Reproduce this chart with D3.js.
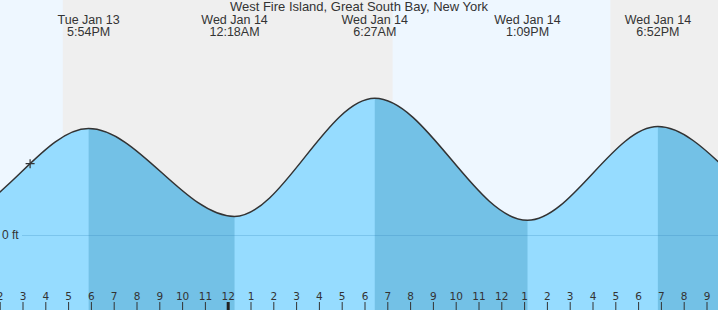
<!DOCTYPE html>
<html>
<head>
<meta charset="utf-8">
<script src="https://cdn.jsdelivr.net/npm/d3@7"></script>
<style>
html, body { margin: 0; padding: 0; background: #fff; }
svg { display: block; font-family: "Liberation Sans", Arial, sans-serif; }
</style>
</head>
<body>
<svg id="chart" width="718" height="310"></svg>
<script>
'use strict'

var title = 'West Fire Island, Great South Bay, New York';

// hi/lo predictions; first two and last two fall outside the window
var tideTimes = ['2026-01-13T05:40', '2026-01-13T12:00', '2026-01-13T17:54', '2026-01-14T00:18',
                 '2026-01-14T06:27', '2026-01-14T13:09', '2026-01-14T18:52', '2026-01-15T01:03',
                 '2026-01-15T07:20'];
var tideHeights = [1.25, 0.2, 1.09, 0.19, 1.40, 0.15, 1.11, 0.2, 1.35];

var nightStarts = ['2026-01-13T16:46', '2026-01-14T16:47'];
var nightEnds = ['2026-01-14T07:14', '2026-01-15T07:15'];

var nowTime = '2026-01-13T15:20';
var nowHeight = 0.73;

var windowStart = '2026-01-13T14:00';
var windowEnd = '2026-01-14T21:30';

var parse = d3.timeParse('%Y-%m-%dT%H:%M');
var W = 718, H = 310;

var tides = tideTimes.map(function(t, i) { return {t: parse(t), h: tideHeights[i]}; });

var x = d3.scaleTime()
    .domain([parse(windowStart), parse(windowEnd)])
    .range([-0.3, 717.9]);
var y = d3.scaleLinear().domain([0, 1.4]).range([235, 98.3]);

var svg = d3.select('#chart');

// day / night background
svg.append('rect').attr('width', W).attr('height', H).attr('fill', '#eef7ff');
svg.selectAll('rect.night')
    .data(nightStarts)
    .enter().append('rect')
    .attr('class', 'night')
    .attr('x', function(d) { return x(parse(d)); })
    .attr('y', 0)
    .attr('width', function(d, i) { return x(parse(nightEnds[i])) - x(parse(d)); })
    .attr('height', H)
    .attr('fill', '#efefef');

// water
var area = d3.area()
    .x(function(d) { return x(d.t); })
    .y0(H)
    .y1(function(d) { return y(d.h); })
    .curve(d3.curveMonotoneX);

svg.append('clipPath').attr('id', 'water')
    .append('path').attr('d', area(tides));

var water = svg.append('g').attr('clip-path', 'url(#water)');
water.append('rect').attr('width', W).attr('height', H).attr('fill', '#96dcff');

var falling = [];
tides.forEach(function(d, i) {
  if (i < tides.length - 1 && d.h > tides[i + 1].h) falling.push([d.t, tides[i + 1].t]);
});
water.selectAll('rect.fall')
    .data(falling)
    .enter().append('rect')
    .attr('class', 'fall')
    .attr('x', function(d) { return x(d[0]); })
    .attr('y', 0)
    .attr('width', function(d) { return x(d[1]) - x(d[0]); })
    .attr('height', H)
    .attr('fill', '#73c1e6');

// zero line + label
svg.append('line')
    .attr('x1', 22).attr('x2', W)
    .attr('y1', y(0) + 0.5).attr('y2', y(0) + 0.5)
    .attr('stroke', '#2a7fb8').attr('stroke-opacity', 0.25);
svg.append('text')
    .attr('x', 2).attr('y', y(0) + 4)
    .attr('font-size', 12).attr('fill', '#333')
    .text('0 ft');

// tide curve
var line = d3.line()
    .x(function(d) { return x(d.t); })
    .y(function(d) { return y(d.h); })
    .curve(d3.curveMonotoneX);
svg.append('path')
    .attr('d', line(tides))
    .attr('fill', 'none')
    .attr('stroke', '#333')
    .attr('stroke-width', 1.5);

// current time marker
var nx = x(parse(nowTime)), ny = y(nowHeight);
svg.append('path')
    .attr('d', 'M' + (nx - 4.5) + ',' + ny + 'H' + (nx + 4.5) + 'M' + nx + ',' + (ny - 4.5) + 'V' + (ny + 4.5))
    .attr('stroke', '#333').attr('stroke-width', 1.2);

// hour axis
var axis = d3.axisTop(x)
    .ticks(d3.timeHour.every(1))
    .tickFormat(d3.timeFormat('%-I'))
    .tickSize(8)
    .tickPadding(2);
var gx = svg.append('g').attr('transform', 'translate(0,' + H + ')').call(axis);
gx.select('.domain').remove();
gx.selectAll('line').attr('stroke', '#333');
gx.selectAll('text')
    .attr('fill', '#333')
    .style('font-family', '"DejaVu Sans", sans-serif')
    .style('font-size', '10.5px');
gx.selectAll('.tick')
    .filter(function(d) { return d.getHours() === 0; })
    .select('line').attr('stroke-width', 3).attr('stroke', '#222');

// title + hi/lo labels
svg.append('text')
    .attr('x', 359).attr('y', 11)
    .attr('text-anchor', 'middle')
    .attr('font-size', 13).attr('fill', '#333')
    .text(title);

var shown = tides.filter(function(d) { return d.t >= x.domain()[0] && d.t <= x.domain()[1]; });
var fmtDay = d3.timeFormat('%a %b %-d'), fmtTime = d3.timeFormat('%-I:%M%p');
var labels = svg.selectAll('g.hilo')
    .data(shown)
    .enter().append('g')
    .attr('class', 'hilo')
    .attr('transform', function(d) { return 'translate(' + x(d.t) + ',0)'; });
labels.append('text')
    .attr('y', 24).attr('text-anchor', 'middle')
    .attr('font-size', 12.5).attr('fill', '#333')
    .text(function(d) { return fmtDay(d.t); });
labels.append('text')
    .attr('y', 36).attr('text-anchor', 'middle')
    .attr('font-size', 12.5).attr('fill', '#333')
    .text(function(d) { return fmtTime(d.t); });
</script>
</body>
</html>
